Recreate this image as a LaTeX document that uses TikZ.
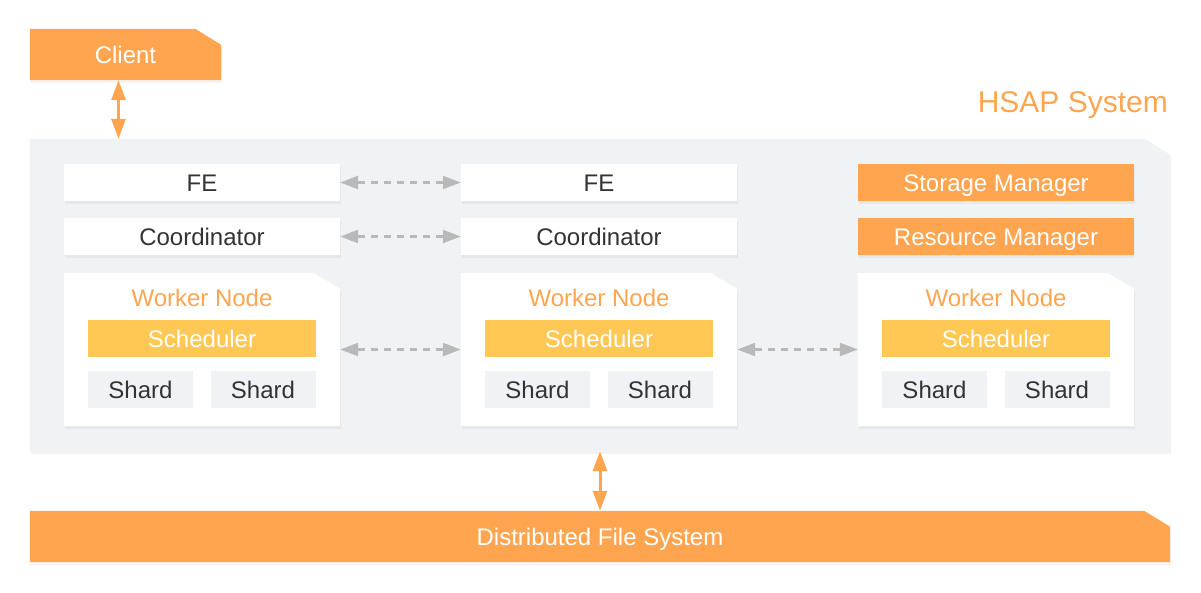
\documentclass[tikz,border=0pt]{standalone}
\usepackage{fontspec}
\setmainfont{Liberation Sans}
\usetikzlibrary{arrows.meta,shadows,backgrounds}
\definecolor{hsapOrange}{RGB}{255,165,80}
\definecolor{hsapYellow}{RGB}{255,200,84}
\definecolor{hsapGray}{RGB}{240,243,245}
\definecolor{hsapText}{RGB}{51,51,51}
\definecolor{hsapArrow}{RGB}{185,185,185}
% filled box with the top right corner cut off
\newcommand{\dogear}[4]{\fill[#2] (#1.south west) -- (#1.north west)
  -- ([xshift=-#3pt]#1.north east) -- ([yshift=-#4pt]#1.north east)
  -- (#1.south east) -- cycle;}

\begin{document}
\begin{tikzpicture}[x=1pt,y=-1pt]
\tikzstyle{box} = [rectangle, inner sep=0pt, minimum height=37pt, text height=17pt, text depth=0pt, font=\fontsize{24}{28}\selectfont]
\tikzstyle{softshadow} = [drop shadow={shadow xshift=1pt, shadow yshift=-3pt, opacity=0.09}]
\tikzstyle{plain} = [box, minimum width=276pt, fill=white, text=hsapText, softshadow]
\tikzstyle{manager} = [box, minimum width=276pt, fill=hsapOrange, text=white, softshadow]
\tikzstyle{scheduler} = [box, minimum width=228pt, fill=hsapYellow, text=white]
\tikzstyle{shard} = [box, minimum width=105pt, fill=hsapGray, text=hsapText]
\tikzstyle{frame} = [rectangle, inner sep=0pt, text height=17pt, text depth=0pt, font=\fontsize{24}{28}\selectfont, text=white]
\tikzstyle{title} = [text height=17pt, text depth=0pt, font=\fontsize{24}{28}\selectfont, text=hsapOrange]
\tikzstyle{ioArrow} = [{Triangle[width=14pt,length=20pt]}-{Triangle[width=14pt,length=20pt]}, line width=3pt, hsapOrange]
\tikzstyle{peerArrow} = [{Triangle[width=13pt,length=18pt]}-{Triangle[width=13pt,length=18pt]}, line width=2.5pt, hsapArrow, dash pattern=on 7pt off 6pt]

\useasboundingbox (0,0) rectangle (1201,592);

\node(client) [frame, minimum width=191pt, minimum height=51pt] at (125.5,54.5) {Client};
\node(hsapLabel) [font=\fontsize{30}{34}\selectfont, text=hsapOrange, inner sep=0pt, anchor=base east] at (1168,112) {HSAP System};
\node(hsap) [frame, minimum width=1140pt, minimum height=312pt] at (600,295) {};
\node(dfs) [frame, minimum width=1140pt, minimum height=51pt] at (600,536.5) {Distributed File System};

\node(feA) [plain] at (202,182.5) {FE};
\node(feB) [plain] at (599,182.5) {FE};
\node(coordA) [plain] at (202,236.5) {Coordinator};
\node(coordB) [plain] at (599,236.5) {Coordinator};
\node(storageMgr) [manager] at (996,182.5) {Storage Manager};
\node(resourceMgr) [manager] at (996,236.5) {Resource Manager};

\node(workerA) [frame, minimum width=276pt, minimum height=153pt] at (202,349.5) {};
\node(workerB) [frame, minimum width=276pt, minimum height=153pt] at (599,349.5) {};
\node(workerC) [frame, minimum width=276pt, minimum height=153pt] at (996,349.5) {};

\node(titleA) [title] at (202,298) {Worker Node};
\node(schedA) [scheduler] at (202,338.5) {Scheduler};
\node(shardA1) [shard] at (140.5,389.5) {Shard};
\node(shardA2) [shard] at (263,389.5) {Shard};
\node(titleB) [title] at (599,298) {Worker Node};
\node(schedB) [scheduler] at (599,338.5) {Scheduler};
\node(shardB1) [shard] at (537.5,389.5) {Shard};
\node(shardB2) [shard] at (660,389.5) {Shard};
\node(titleC) [title] at (996,298) {Worker Node};
\node(schedC) [scheduler] at (996,338.5) {Scheduler};
\node(shardC1) [shard] at (934.5,389.5) {Shard};
\node(shardC2) [shard] at (1057,389.5) {Shard};

\begin{pgfonlayer}{background}
\dogear{client}{hsapOrange, softshadow}{26}{16}
\dogear{hsap}{hsapGray, softshadow}{25}{16}
\dogear{dfs}{hsapOrange, softshadow}{26}{16}
\dogear{workerA}{white, softshadow}{27}{16}
\dogear{workerB}{white, softshadow}{27}{16}
\dogear{workerC}{white, softshadow}{27}{16}
\end{pgfonlayer}

\draw[ioArrow] ([xshift=-7pt]client.south) -- ([xshift=-7pt]client.south |- hsap.north);
\draw[ioArrow] (hsap.south) -- (dfs.north);
\draw[peerArrow] (feA.east) -- (feB.west);
\draw[peerArrow] (coordA.east) -- (coordB.west);
\draw[peerArrow] (workerA.east) -- (workerB.west);
\draw[peerArrow] (workerB.east) -- (workerC.west);
\end{tikzpicture}
\end{document}
